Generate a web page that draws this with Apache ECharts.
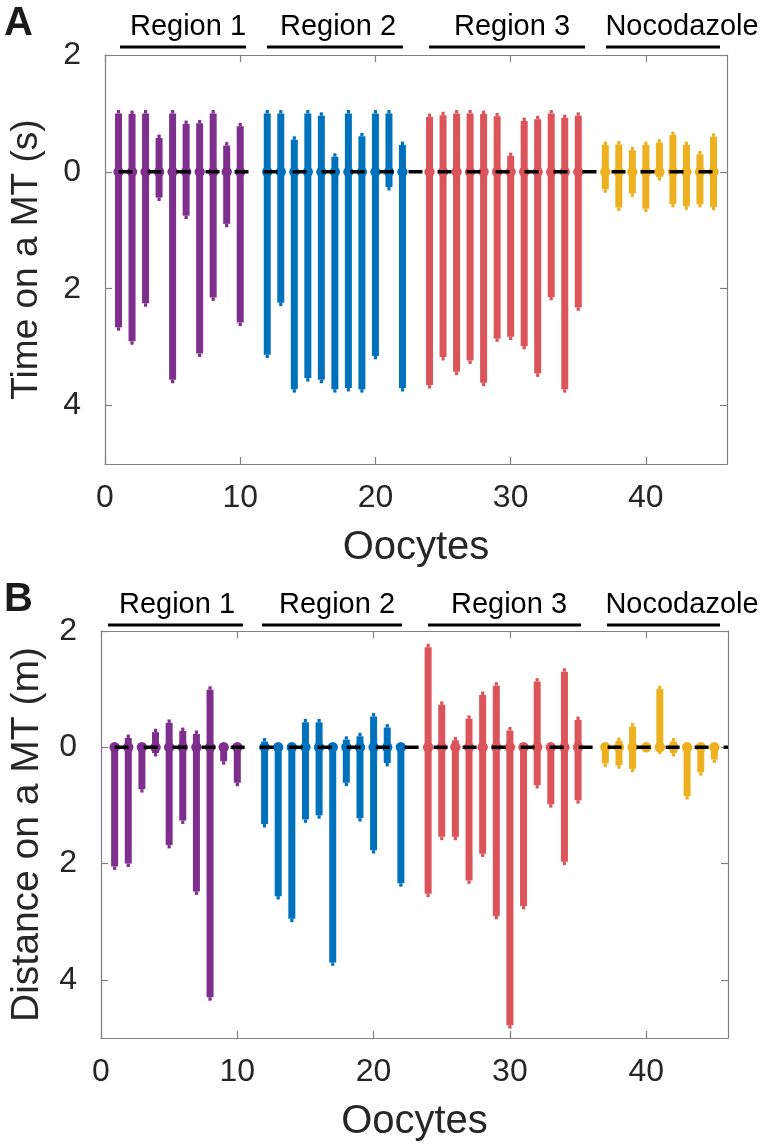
<!DOCTYPE html>
<html>
<head>
<meta charset="utf-8">
<script src="https://cdn.jsdelivr.net/npm/echarts@6/dist/echarts.min.js"></script>
<style>
html,body{margin:0;padding:0;background:#fff;}
#chart{width:761px;height:1145px;}
</style>
</head>
<body>
<div id="chart"></div>
<script>
// ---- Data ----
const groupNames = ['Region 1', 'Region 2', 'Region 3', 'Nocodazole'];
const xR1 = [1, 2, 3, 4, 5, 6, 7, 8, 9, 10];
const xR2 = [12, 13, 14, 15, 16, 17, 18, 19, 20, 21, 22];
const xR3 = [24, 25, 26, 27, 28, 29, 30, 31, 32, 33, 34, 35];
const xNoc = [37, 38, 39, 40, 41, 42, 43, 44, 45];

// Panel A: time on a MT (s): extent above and below zero
const timeUpR1 = [1.0, 0.99, 1.0, 0.58, 1.0, 0.82, 0.83, 1.0, 0.45, 0.78];
const timeDownR1 = [2.66, 2.9, 2.25, 0.44, 3.56, 0.75, 3.11, 2.15, 0.89, 2.58];
const timeUpR2 = [1.0, 1.0, 0.55, 1.0, 0.96, 0.26, 1.0, 0.61, 1.0, 1.0, 0.46];
const timeDownR2 = [3.13, 2.24, 3.72, 3.53, 3.56, 3.72, 3.70, 3.72, 3.15, 0.26, 3.70];
const timeUpR3 = [0.94, 0.97, 1.0, 1.0, 0.99, 0.95, 0.27, 0.87, 0.90, 1.0, 0.92, 0.96];
const timeDownR3 = [3.65, 3.17, 3.42, 3.23, 3.61, 2.85, 2.82, 2.98, 3.45, 2.14, 3.72, 2.32];
const timeUpNoc = [0.46, 0.47, 0.37, 0.46, 0.50, 0.63, 0.46, 0.30, 0.60];
const timeDownNoc = [0.30, 0.61, 0.37, 0.63, 0.09, 0.55, 0.59, 0.55, 0.60];

// Panel B: distance on a MT (m)
const distUpR1 = [0, 0.16, 0, 0.26, 0.42, 0.28, 0.23, 0.99, 0, 0];
const distDownR1 = [2.05, 2.0, 0.72, 0.10, 1.68, 1.26, 2.48, 4.30, 0.24, 0.61];
const distUpR2 = [0.10, 0, 0, 0.43, 0.43, 0, 0.13, 0.19, 0.53, 0.34, 0];
const distDownR2 = [1.32, 2.56, 2.95, 1.24, 1.17, 3.70, 0.61, 1.22, 1.77, 0.27, 2.34];
const distUpR3 = [1.72, 0.73, 0.12, 0.49, 0.90, 1.06, 0.29, 0, 1.13, 0, 1.30, 0.47];
const distDownR3 = [2.52, 1.54, 1.54, 2.29, 1.83, 2.90, 4.78, 2.73, 0.65, 0.98, 1.97, 0.91];
const distUpNoc = [0, 0.11, 0.36, 0, 1.0, 0.10, 0, 0, 0];
const distDownNoc = [0.28, 0.31, 0.37, 0, 0.06, 0.10, 0.84, 0.43, 0.21];

const xTickValues = [0, 10, 20, 30, 40];
const yTickValues = [-4, -2, 0, 2];

// ---- Styling ----
const FONT = '"Liberation Sans", Arial, Helvetica, sans-serif';
const colors = ['#7E2F8E', '#0072BD', '#DA545A', '#EDB120'];
const axisColor = '#808080';
const textColor = '#262626';

function renderBar(params, api) {
  const x = api.value(0), up = api.value(1), dn = api.value(2);
  const p0 = api.coord([x, 0]);
  const pTop = api.coord([x, up]);
  const pBot = api.coord([x, -dn]);
  const color = api.visual('color');
  const w = 7, nw = 3.2, nh = 3.4, r = 5.2;
  return {
    type: 'group',
    children: [
      { type: 'rect', shape: { x: p0[0] - w / 2, y: pTop[1], width: w, height: pBot[1] - pTop[1] }, style: { fill: color } },
      { type: 'rect', shape: { x: p0[0] - nw / 2, y: pTop[1] - nh, width: nw, height: nh }, style: { fill: color } },
      { type: 'rect', shape: { x: p0[0] - nw / 2, y: pBot[1], width: nw, height: nh }, style: { fill: color } },
      { type: 'circle', shape: { cx: p0[0], cy: p0[1], r: r }, style: { fill: color } }
    ]
  };
}

function zip(xs, up, dn) { return xs.map((x, i) => [x, up[i], dn[i]]); }

const panels = [
  { groups: [zip(xR1, timeUpR1, timeDownR1), zip(xR2, timeUpR2, timeDownR2), zip(xR3, timeUpR3, timeDownR3), zip(xNoc, timeUpNoc, timeDownNoc)], yName: 'Time on a MT (s)', yNameSize: 37, yNameGap: 60 },
  { groups: [zip(xR1, distUpR1, distDownR1), zip(xR2, distUpR2, distDownR2), zip(xR3, distUpR3, distDownR3), zip(xNoc, distUpNoc, distDownNoc)], yName: 'Distance on a MT (m)', yNameSize: 39, yNameGap: 54 }
];

const X_MIN = 0, X_MAX = 46, Y_MIN = -5, Y_MAX = 2;

const grids = [
  { left: 105, right: 34, top: 55, height: 409 },
  { left: 99, right: 33, top: 631, height: 407 }
];

const xAxes = [], yAxes = [], series = [];
panels.forEach((p, gi) => {
  const base = {
    gridIndex: gi, type: 'value', min: X_MIN, max: X_MAX,
    axisLine: { onZero: false, lineStyle: { color: axisColor, width: 1.2 } },
    axisTick: { inside: true, length: 7, customValues: xTickValues, lineStyle: { color: axisColor, width: 1.2 } },
    splitLine: { show: false }
  };
  xAxes.push(Object.assign({}, base, {
    position: 'bottom',
    axisLabel: { customValues: xTickValues, fontSize: 32, color: textColor, fontFamily: FONT, margin: 18 },
    name: 'Oocytes', nameLocation: 'middle', nameGap: 64,
    nameTextStyle: { fontSize: 40, color: textColor, fontFamily: FONT }
  }));
  xAxes.push(Object.assign({}, base, { position: 'top', axisLabel: { show: false } }));
  const ybase = {
    gridIndex: gi, type: 'value', min: Y_MIN, max: Y_MAX,
    axisLine: { onZero: false, lineStyle: { color: axisColor, width: 1.2 } },
    axisTick: { inside: true, length: 7, customValues: yTickValues, lineStyle: { color: axisColor, width: 1.2 } },
    splitLine: { show: false }
  };
  yAxes.push(Object.assign({}, ybase, {
    position: 'left',
    axisLabel: { customValues: yTickValues, fontSize: 32, color: textColor, fontFamily: FONT, margin: 24,
      formatter: v => String(Math.abs(v)) },
    name: p.yName, nameLocation: 'middle', nameGap: p.yNameGap,
    nameTextStyle: { fontSize: p.yNameSize, color: textColor, fontFamily: FONT }
  }));
  yAxes.push(Object.assign({}, ybase, { position: 'right', axisLabel: { show: false } }));

  p.groups.forEach((data, k) => {
    series.push({
      type: 'custom', name: groupNames[k], xAxisIndex: gi * 2, yAxisIndex: gi * 2,
      renderItem: renderBar, data: data, encode: { x: 0, y: [1, 2] },
      itemStyle: { color: colors[k] }, z: 2, silent: true
    });
  });
  const firstX = p.groups[0][0][0];
  series.push({
    type: 'line', xAxisIndex: gi * 2, yAxisIndex: gi * 2,
    data: [[firstX, 0], [X_MAX, 0]], symbol: 'none', silent: true, z: 5,
    lineStyle: { color: '#000', width: 3.5, type: [14, 15], cap: 'butt' }
  });
});

// Group header labels with underlines (layout positions, px)
const headers = [
  { letter: 'A', letterY: 4, textY: 27, lineY: 47, items: [[188, 120, 246], [338, 267, 403], [512, 429, 585], [682, 606, 720]] },
  { letter: 'B', letterY: 580, textY: 605, lineY: 625, items: [[177, 108, 243], [337, 262, 402], [509, 428, 581], [682, 607, 720]] }
];
const graphic = [];
headers.forEach(h => {
  graphic.push({ type: 'text', left: 4, top: h.letterY, style: { text: h.letter, font: 'bold 40px ' + FONT, fill: '#1a1a1a' } });
  h.items.forEach((it, k) => {
    graphic.push({ type: 'text', x: it[0], y: h.textY, style: { text: groupNames[k], font: '29px ' + FONT, fill: '#000', align: 'center', verticalAlign: 'middle' } });
    graphic.push({ type: 'line', shape: { x1: it[1], y1: h.lineY, x2: it[2], y2: h.lineY }, style: { stroke: '#000', lineWidth: 3 } });
  });
});

const chart = echarts.init(document.getElementById('chart'), null, { renderer: 'canvas' });
chart.setOption({
  backgroundColor: '#fff',
  animation: false,
  grid: grids,
  xAxis: xAxes,
  yAxis: yAxes,
  series: series,
  graphic: graphic
});
</script>
</body>
</html>
